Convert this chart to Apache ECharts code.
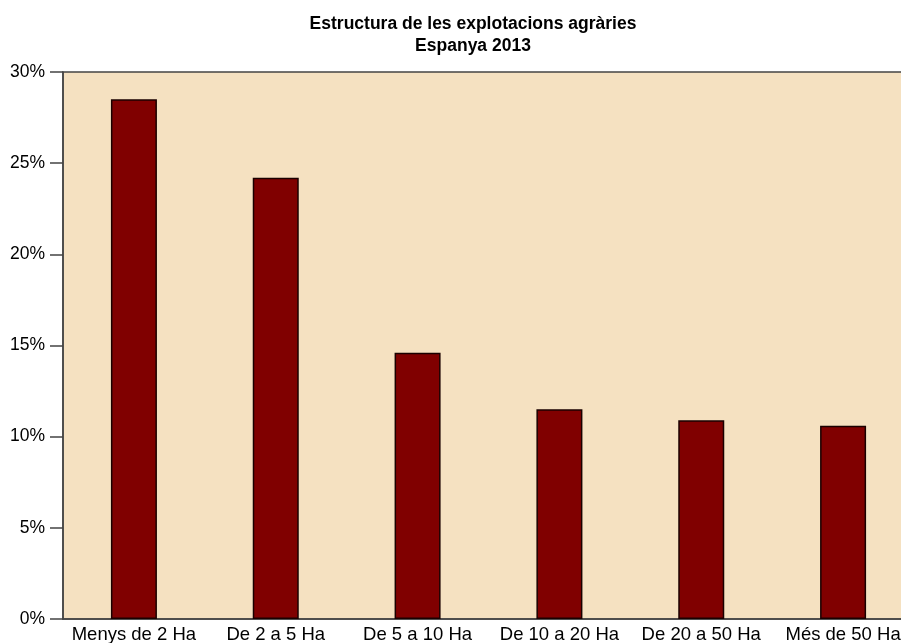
<!DOCTYPE html>
<html>
<head>
<meta charset="utf-8">
<script src="https://cdn.jsdelivr.net/npm/echarts@6/dist/echarts.min.js"></script>
<style>
    html, body { margin: 0; padding: 0; background: #fff; }
    #chart { width: 901px; height: 643px; }
</style>
</head>
<body>
<div id="chart"></div>
<script>
const categories = ["Menys de 2 Ha", "De 2 a 5 Ha", "De 5 a 10 Ha", "De 10 a 20 Ha", "De 20 a 50 Ha", "Més de 50 Ha"];
const shares = [28.5, 24.2, 14.6, 11.5, 10.9, 10.6];
const yTicks = [0, 5, 10, 15, 20, 25, 30];

const chart = echarts.init(document.getElementById('chart'));
const option = {
    animation: false,
    title: {
        text: 'Estructura de les explotacions agràries\nEspanya 2013',
        left: 468,
        top: 8,
        textAlign: 'center',
        textStyle: {
            fontFamily: 'Liberation Sans',
            fontSize: 17.5,
            fontWeight: 'bold',
            color: '#000',
            lineHeight: 22
        }
    },
    grid: {
        left: 63,
        right: -13,
        top: 72,
        bottom: 24,
        outerBoundsMode: 'none',
        containLabel: false,
        show: true,
        backgroundColor: '#f5e1c1',
        borderColor: '#444',
        borderWidth: 1.5
    },
    xAxis: {
        type: 'category',
        data: categories,
        axisLine: { lineStyle: { color: '#444', width: 1.5 } },
        axisTick: { show: false },
        axisLabel: {
            interval: 0,
            margin: 6,
            fontFamily: 'Liberation Sans',
            fontSize: 18.5,
            color: '#000'
        }
    },
    yAxis: {
        type: 'value',
        min: yTicks[0],
        max: yTicks[yTicks.length - 1],
        interval: 5,
        axisLine: { show: true, lineStyle: { color: '#444', width: 1.5 } },
        axisTick: { show: true, length: 13, lineStyle: { color: '#444', width: 1.5 } },
        splitLine: { show: false },
        axisLabel: {
            margin: 18,
            fontFamily: 'Liberation Sans',
            fontSize: 17.5,
            color: '#000',
            formatter: '{value}%'
        }
    },
    series: [{
        type: 'bar',
        data: shares,
        barWidth: 46,
        itemStyle: {
            color: '#800000',
            borderColor: '#1a0000',
            borderWidth: 1.5
        }
    }]
};
chart.setOption(option);
</script>
</body>
</html>
